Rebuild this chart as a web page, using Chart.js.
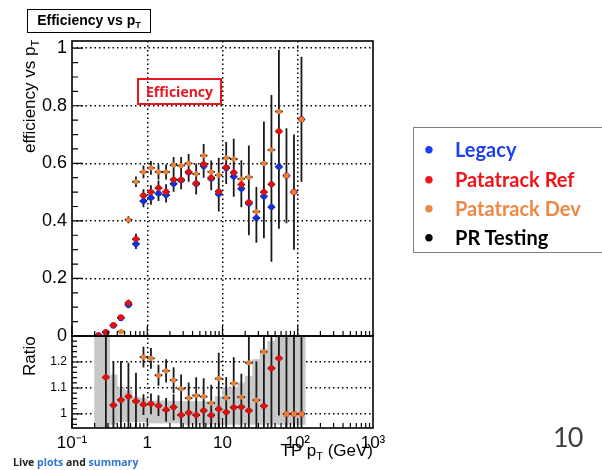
<!DOCTYPE html>
<html>
<head>
<meta charset="utf-8">
<script src="https://cdn.jsdelivr.net/npm/chart.js@4.4.0/dist/chart.umd.min.js"></script>
<style>
  body { margin: 0; background: #fff; width: 602px; height: 470px; overflow: hidden; position: relative; font-family: "Liberation Sans", Arial, sans-serif; }
  #eff { position: absolute; left: 0; top: 0; }
  .abs { position: absolute; white-space: nowrap; }
  sub { font-size: 65%; vertical-align: -0.35em; line-height: 0; }
  .rot { transform-origin: 0 0; transform: rotate(-90deg); font-size: 17px; line-height: 20px; }
  #legend { left: 413px; top: 127px; width: 200px; height: 124px; border: 1px solid #7f7f7f; font-family: Lato, "Open Sans", sans-serif; font-weight: bold; font-size: 20px; }
  #legend div { position: absolute; left: 0; height: 30px; line-height: 30px; }
  #legend span.b { position: absolute; left: 10px; font-size: 17px; }
  #legend span.t { position: absolute; left: 41px; }
</style>
</head>
<body>
<canvas id="eff" width="602" height="470"></canvas>

<div class="abs" style="left:27px;top:9px;width:122px;height:22px;border:1.5px solid #000;font-weight:bold;font-size:14px;line-height:21px;text-align:center;">Efficiency vs p<sub>T</sub></div>
<div class="abs rot" style="left:20px;top:153px;">efficiency vs p<sub>T</sub></div>
<div class="abs rot" style="left:20px;top:376px;">Ratio</div>
<div class="abs" style="right:229px;top:442px;font-size:17px;line-height:17px;">TP p<sub>T</sub> (GeV)</div>
<div class="abs" style="left:137px;top:78px;width:81px;height:23px;border:2px solid #e8161e;color:#e8161e;font-family:'Open Sans',sans-serif;font-weight:bold;font-size:14px;line-height:23px;text-align:center;">Efficiency</div>

<div id="legend" class="abs">
  <div style="top:6px;color:#1c3ff0;"><span class="b">•</span><span class="t">Legacy</span></div>
  <div style="top:36px;color:#f01418;"><span class="b">•</span><span class="t">Patatrack Ref</span></div>
  <div style="top:65px;color:#ef8845;"><span class="b">•</span><span class="t">Patatrack Dev</span></div>
  <div style="top:94px;color:#000;"><span class="b">•</span><span class="t">PR Testing</span></div>
</div>

<div class="abs" style="left:13px;top:455px;font-family:'Open Sans',sans-serif;font-weight:bold;font-size:10.5px;line-height:14px;color:#222;">Live <span style="color:#2e75d6">plots</span> and <span style="color:#2e75d6">summary</span></div>
<div class="abs" style="left:553px;top:422px;font-family:Lato,sans-serif;font-size:27px;line-height:30px;color:#404040;letter-spacing:-1px;">10</div>

<script>
// pT bin centres (GeV)
var ptBins = [0.224, 0.282, 0.355, 0.447, 0.562, 0.708, 0.891, 1.12, 1.41, 1.78, 2.24, 2.82, 3.55, 4.47,
              5.62, 7.08, 8.91, 11.2, 14.1, 17.8, 22.4, 28.2, 35.5, 44.7, 56.2, 70.8, 89.1, 112];

// efficiency per series
var effLegacy = [0.003, 0.012, 0.036, 0.062, 0.108, 0.32, 0.469, 0.48, 0.495, 0.49, 0.529, 0.54, 0.568, 0.528,
                 0.59, 0.546, 0.493, 0.583, 0.554, 0.512, 0.46, 0.41, 0.485, 0.448, 0.588, 0.557, 0.5, 0.753];
var effRef = [0.003, 0.014, 0.038, 0.065, 0.115, 0.337, 0.488, 0.5, 0.514, 0.501, 0.543, 0.543, 0.57, 0.531,
              0.597, 0.55, 0.502, 0.586, 0.568, 0.526, 0.465, null, 0.5, 0.527, 0.711, 0.557, 0.5, 0.753];
var effDev = [null, null, null, 0.015, 0.404, 0.536, 0.57, 0.584, 0.57, 0.57, 0.594, 0.592, 0.6, 0.563,
              0.627, 0.57, 0.559, 0.619, 0.615, 0.546, 0.552, 0.432, 0.6, 0.647, 0.78, 0.557, 0.5, 0.753];
var effErr = [0.004, 0.005, 0.006, 0.008, 0.012, 0.018, 0.022, 0.024, 0.026, 0.026, 0.028, 0.03, 0.032, 0.036,
              0.04, 0.04, 0.06, 0.055, 0.07, 0.065, 0.11, 0.086, 0.145, 0.19, 0.215, 0.165, 0.2, 0.217];

// ratio panel (vs Legacy)
var ratioRef = [null, 1.141, 1.034, 1.054, 1.067, 1.049, 1.036, 1.039, 1.032, 1.016, 1.026, 0.996, 1.005, 0.996,
                1.013, 0.995, 1.019, 1.007, 1.025, 1.027, 1.013, null, 1.031, 1.176, 1.214, 1.0, 1.0, 1.0];
var ratioDev = [null, null, null, null, null, null, 1.219, 1.214, 1.149, 1.166, 1.13, 1.097, 1.061, 1.071,
                1.067, 1.042, 1.136, 1.062, 1.118, 1.065, 1.197, 1.053, 1.239, null, null, 1.0, 1.0, 1.0];
var ratioErr = [0, 0.4, 0.17, 0.15, 0.13, 0.11, 0.04, 0.04, 0.04, 0.045, 0.05, 0.055, 0.06, 0.07,
                0.07, 0.07, 0.1, 0.08, 0.1, 0.09, 0.2, 0.15, 0.3, 0.3, 0.22, 0.4, 0.4, 0.4];
var bandLow = [0.95, 0.95, 0.96, 0.97, 0.97, 0.97, 0.97, 0.965, 0.965, 0.965, 0.965, 0.965, 0.96, 0.96,
               0.96, 0.96, 0.96, 0.96, 0.96, 0.96, 0.96, 0.96, 0.96, 0.96, 0.96, 0.96, 0.96, 0.96];
var bandHigh = [1.3, 1.3, 1.15, 1.1, 1.09, 1.065, 1.06, 1.05, 1.05, 1.05, 1.048, 1.048, 1.048, 1.048,
                1.048, 1.048, 1.067, 1.1, 1.1, 1.12, 1.145, 1.21, 1.25, 1.28, 1.3, 1.3, 1.3, 1.3];

// axis ticks
var xTicks = [0.1, 1, 10, 100, 1000];
var xTickLabels = ["10\u207B\u00B9", "1", "10", "10\u00B2", "10\u00B3"];
var effTicks = [0, 0.2, 0.4, 0.6, 0.8, 1];
var ratioTicks = [1, 1.1, 1.2];

var blue = "#1030e0", red = "#e01010", orange = "#e8803a";

Chart.defaults.font.family = "'Liberation Sans', Arial, sans-serif";
Chart.defaults.color = "#000";

function pts(vals) {
    return vals.map(function (v, i) { return { x: ptBins[i], y: v }; });
}

// black error bars, drawn right after the grey band so markers sit on top
var errorBars = {
    id: "errorBars",
    afterDatasetDraw: function (chart, args) {
        if (args.meta.type !== "bar") return;
        var ctx = chart.ctx, xs = chart.scales.x;
        var px = ptBins.map(function (v) { return xs.getPixelForValue(v); });
        function drawSet(ys, series, err) {
            ctx.save();
            ctx.beginPath();
            ctx.rect(chart.chartArea.left, ys.top, chart.chartArea.width, ys.bottom - ys.top);
            ctx.clip();
            ctx.strokeStyle = "#1a1a1a";
            ctx.lineWidth = 1.8;
            ctx.beginPath();
            series.forEach(function (vals) {
                vals.forEach(function (v, i) {
                    if (v === null) return;
                    var lo = i > 0 ? (px[i] + px[i - 1]) / 2 : px[i] - (px[i + 1] - px[i]) / 2;
                    var hi = i < px.length - 1 ? (px[i] + px[i + 1]) / 2 : px[i] + (px[i] - px[i - 1]) / 2;
                    var py = ys.getPixelForValue(v);
                    ctx.moveTo(lo, py); ctx.lineTo(hi, py);
                    if (err[i] > 0) {
                        ctx.moveTo(px[i], ys.getPixelForValue(v - err[i]));
                        ctx.lineTo(px[i], ys.getPixelForValue(v + err[i]));
                    }
                });
            });
            ctx.stroke();
            ctx.restore();
        }
        drawSet(chart.scales.y, [effLegacy, effRef, effDev], effErr);
        drawSet(chart.scales.yr, [ratioRef, ratioDev], ratioErr);
    }
};

// ROOT style frames and inward ticks
var frame = {
    id: "frame",
    afterDraw: function (chart) {
        var ctx = chart.ctx, xs = chart.scales.x, yu = chart.scales.y, yr = chart.scales.yr;
        var L = chart.chartArea.left, R = chart.chartArea.right;
        ctx.save();
        ctx.strokeStyle = "#000";
        ctx.lineWidth = 1.2;
        ctx.beginPath();
        var k, p, v;
        for (k = 0; k <= 20; k++) {
            p = yu.getPixelForValue(k * 0.05);
            ctx.moveTo(L, p); ctx.lineTo(L + (k % 4 === 0 ? 11 : 6), p);
        }
        for (k = 0; k <= 17; k++) {
            v = 0.96 + k * 0.02;
            p = yr.getPixelForValue(v);
            var major = Math.abs(v * 10 - Math.round(v * 10)) < 1e-6;
            ctx.moveTo(L, p); ctx.lineTo(L + (major ? 10 : 5), p);
        }
        [0.1, 1, 10, 100].forEach(function (d) {
            for (var m = 1; m <= 9; m++) {
                var x = xs.getPixelForValue(d * m);
                var len = m === 1 ? 10 : 5;
                ctx.moveTo(x, yu.bottom); ctx.lineTo(x, yu.bottom - len);
                ctx.moveTo(x, yr.bottom); ctx.lineTo(x, yr.bottom - len);
            }
        });
        ctx.stroke();
        ctx.lineWidth = 1.6;
        ctx.strokeRect(L, yu.top, R - L, yu.bottom - yu.top);
        ctx.strokeRect(L, yr.top, R - L, yr.bottom - yr.top);
        ctx.restore();
    }
};

var dotted = { display: false, dash: [1.5, 3] };

new Chart(document.getElementById("eff").getContext("2d"), {
    type: "scatter",
    data: {
        datasets: [
            { label: "Patatrack Dev", data: pts(effDev), yAxisID: "y", order: 1,
              backgroundColor: orange, pointRadius: 2.6, borderWidth: 0 },
            { label: "Patatrack Ref", data: pts(effRef), yAxisID: "y", order: 2,
              backgroundColor: red, pointRadius: 3, borderWidth: 0 },
            { label: "Legacy", data: pts(effLegacy), yAxisID: "y", order: 3,
              backgroundColor: blue, pointRadius: 3, borderWidth: 0 },
            { label: "Dev / Legacy", data: pts(ratioDev), yAxisID: "yr", order: 1,
              backgroundColor: orange, pointRadius: 2.6, borderWidth: 0 },
            { label: "Ref / Legacy", data: pts(ratioRef), yAxisID: "yr", order: 2,
              backgroundColor: red, pointRadius: 3, borderWidth: 0 },
            { type: "bar", label: "band", yAxisID: "yr", order: 10,
              data: ptBins.map(function (x, i) { return { x: x, y: [bandLow[i], bandHigh[i]] }; }),
              backgroundColor: "#c8c8c8", borderWidth: 0,
              barThickness: "flex", barPercentage: 1, categoryPercentage: 1 }
        ]
    },
    options: {
        responsive: false,
        animation: false,
        events: [],
        layout: { padding: { left: 0, top: 41, right: 229, bottom: 12 } },
        plugins: { legend: { display: false }, tooltip: { enabled: false } },
        scales: {
            x: {
                type: "logarithmic", min: 0.1, max: 1000, offset: false,
                afterBuildTicks: function (s) { s.ticks = xTicks.map(function (v) { return { value: v }; }); },
                afterFit: function (s) { s.height = 30; },
                ticks: {
                    autoSkip: false, maxRotation: 0, padding: 5, font: { size: 17 },
                    callback: function (v) { var i = xTicks.indexOf(v); return i < 0 ? "" : xTickLabels[i]; }
                },
                grid: {
                    offset: false, drawTicks: false, lineWidth: 1.5,
                    color: function (c) { return (c.tick && c.tick.value > 0.5 && c.tick.value < 500) ? "#000" : "rgba(0,0,0,0)"; }
                },
                border: dotted
            },
            yr: {
                type: "linear", position: "left", stack: "panels", stackWeight: 92, min: 0.946, max: 1.3,
                afterBuildTicks: function (s) { s.ticks = ratioTicks.map(function (v) { return { value: v }; }); },
                afterFit: function (s) { s.width = 72; },
                ticks: { padding: 5, font: { size: 12 }, callback: function (v) { return String(v); } },
                grid: { drawTicks: false, lineWidth: 1.5, color: "#000" },
                border: dotted
            },
            y: {
                type: "linear", position: "left", stack: "panels", stackWeight: 295, min: 0, max: 1.025,
                afterBuildTicks: function (s) { s.ticks = effTicks.map(function (v) { return { value: v }; }); },
                afterFit: function (s) { s.width = 72; },
                ticks: { padding: 5, font: { size: 18 }, callback: function (v) { return String(v); } },
                grid: {
                    drawTicks: false, lineWidth: 1.5,
                    color: function (c) { return (c.tick && c.tick.value > 0) ? "#000" : "rgba(0,0,0,0)"; }
                },
                border: dotted
            }
        }
    },
    plugins: [errorBars, frame]
});
</script>
</body>
</html>
